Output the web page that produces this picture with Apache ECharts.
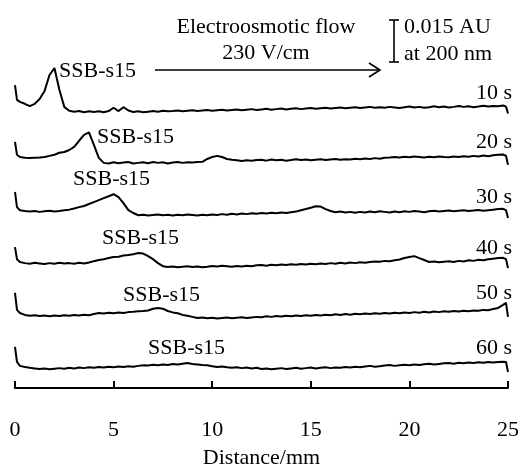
<!DOCTYPE html>
<html>
<head>
<meta charset="utf-8">
<script src="https://cdn.jsdelivr.net/npm/echarts@6/dist/echarts.min.js"></script>
<style>
  html, body { margin: 0; padding: 0; background: #fff; }
  #main { width: 524px; height: 466px; }
</style>
</head>
<body>
<div id="main"></div>
<script>
// distance along the channel (mm)
var distance = [0, 0.1, 0.25, 0.5, 0.75, 1, 1.25, 1.5, 1.75, 2,
  2.25, 2.5, 2.75, 3, 3.25, 3.5, 3.75, 4, 4.25, 4.5,
  4.75, 5, 5.25, 5.5, 5.75, 6, 6.25, 6.5, 6.75, 7,
  7.25, 7.5, 7.75, 8, 8.25, 8.5, 8.75, 9, 9.25, 9.5,
  9.75, 10, 10.25, 10.5, 10.75, 11, 11.25, 11.5, 11.75, 12,
  12.25, 12.5, 12.75, 13, 13.25, 13.5, 13.75, 14, 14.25, 14.5,
  14.75, 15, 15.25, 15.5, 15.75, 16, 16.25, 16.5, 16.75, 17,
  17.25, 17.5, 17.75, 18, 18.25, 18.5, 18.75, 19, 19.25, 19.5,
  19.75, 20, 20.25, 20.5, 20.75, 21, 21.25, 21.5, 21.75, 22,
  22.25, 22.5, 22.75, 23, 23.25, 23.5, 23.75, 24, 24.25, 24.5,
  24.75, 24.9, 25];

// absorbance above each trace's own baseline (mAU)
var trace10s = [9.6, 4.3, 3.6, 2.9, 2.1, 2.9, 4.6, 7.5, 13.2, 15.7,
  7.9, 1.8, 0.4, 0.1, 0.3, -0.1, 0.2, 0.0, 0.2, -0.1,
  0.3, 1.5, 0.3, 1.7, 0.5, 0.0, 0.2, -0.1, 0.1, 0.3,
  0.1, 0.4, 0.2, 0.3, 0.5, 0.2, 0.4, 0.6, 0.3, 0.5,
  0.7, 0.4, 0.6, 0.8, 0.5, 0.7, 0.9, 0.6, 0.8, 1.0,
  0.7, 0.9, 1.1, 0.8, 1.0, 1.2, 0.9, 1.1, 1.3, 1.0,
  1.2, 1.4, 1.1, 1.3, 1.5, 1.2, 1.4, 1.6, 1.3, 1.5,
  1.7, 1.4, 1.6, 1.8, 1.5, 1.7, 1.5, 1.8, 1.6, 1.4,
  1.7, 1.9, 1.6, 1.8, 1.5, 1.7, 2.0, 1.7, 1.9, 1.6,
  1.8, 2.1, 1.8, 2.0, 1.7, 1.9, 2.2, 1.9, 2.1, 2.0,
  2.3, 1.9, -0.6];
var trace20s = [7.5, 2.9, 2.1, 1.8, 1.7, 1.8, 1.9, 2.1, 2.5, 2.9,
  3.6, 3.9, 4.6, 5.7, 7.9, 10.0, 10.9, 6.4, 1.8, 0.0,
  -0.2, 0.2, -0.1, 0.1, 0.3, -0.2, 0.0, 0.2, -0.1, 0.3,
  0.0, 0.2, -0.2, 0.1, 0.3, 0.0, 0.2, 0.1, 0.3, 0.4,
  1.4, 2.1, 2.5, 2.1, 1.4, 1.1, 0.9, 0.7, 0.9, 0.8,
  1.0, 1.1, 0.8, 1.2, 0.9, 1.1, 0.8, 1.0, 1.3, 1.0,
  1.2, 0.9, 1.1, 1.3, 1.0, 1.2, 1.4, 1.1, 1.3, 1.2,
  1.5, 1.3, 1.6, 1.4, 1.7, 1.5, 1.8, 1.9, 2.1, 1.9,
  2.2, 2.0, 2.3, 2.1, 1.9, 2.2, 2.0, 2.3, 2.1, 2.0,
  2.3, 2.1, 2.4, 2.2, 2.5, 2.3, 2.6, 2.4, 2.7, 2.9,
  3.0, 2.5, -0.7];
var trace30s = [7.9, 2.5, 1.4, 1.1, 0.9, 1.1, 0.8, 1.0, 1.2, 0.9,
  1.1, 1.4, 1.6, 2.0, 2.5, 2.9, 3.6, 4.3, 5.0, 5.7,
  6.4, 7.1, 6.1, 3.9, 1.4, 0.4, -0.4, -0.2, -0.5, -0.3,
  -0.1, -0.4, -0.2, -0.5, -0.2, -0.4, -0.1, -0.3, -0.5, -0.2,
  -0.4, -0.1, -0.3, 0.0, -0.2, 0.1, -0.1, 0.2, 0.0, 0.3,
  0.1, 0.4, 0.2, 0.5, 0.3, 0.6, 0.4, 0.7, 0.9, 1.4,
  1.8, 2.3, 2.8, 2.7, 1.8, 1.1, 0.7, 0.9, 0.6, 0.8,
  0.5, 0.8, 0.6, 0.9, 0.7, 1.0, 0.8, 0.6, 0.9, 0.7,
  1.0, 0.8, 1.1, 0.9, 0.7, 1.0, 1.2, 0.9, 1.1, 1.3,
  1.0, 1.2, 1.4, 1.1, 1.3, 1.5, 1.2, 1.4, 1.6, 1.8,
  1.9, 1.4, -1.4];
var trace40s = [6.4, 2.1, 1.1, 0.7, 0.5, 0.8, 0.6, 0.4, 0.7, 0.5,
  0.8, 0.6, 0.7, 0.5, 0.8, 0.6, 0.9, 1.4, 1.8, 2.1,
  2.5, 2.9, 3.0, 3.4, 3.6, 3.9, 4.3, 4.1, 3.2, 2.1,
  0.7, -0.4, -0.7, -0.5, -0.8, -0.6, -0.4, -0.7, -0.5, -0.8,
  -0.6, -0.3, -0.5, -0.2, -0.4, -0.6, -0.3, -0.5, -0.2, -0.4,
  -0.1, 0.0, -0.2, 0.1, -0.1, 0.2, 0.0, 0.3, 0.1, 0.4,
  0.2, 0.5, 0.3, 0.6, 0.4, 0.7, 0.5, 0.8, 0.6, 0.9,
  0.7, 1.0, 0.8, 1.1, 1.3, 1.2, 1.5, 1.4, 1.7, 2.0,
  2.5, 2.9, 3.2, 2.5, 1.8, 1.1, 1.3, 1.0, 1.2, 1.4,
  1.1, 1.5, 1.3, 1.7, 1.5, 1.9, 1.7, 2.1, 2.3, 2.5,
  2.6, 2.1, -1.1];
var trace50s = [8.6, 2.5, 1.4, 0.7, 0.4, 0.6, 0.3, 0.5, 0.2, 0.5,
  0.3, 0.6, 0.4, 0.7, 0.5, 0.8, 0.6, 1.0, 1.4, 1.2,
  1.5, 1.3, 1.6, 1.4, 1.7, 1.8, 2.0, 2.1, 2.3, 2.9,
  3.2, 2.9, 2.1, 1.6, 1.3, 0.7, 0.4, 0.0, -0.4, -0.2,
  -0.5, -0.3, -0.6, -0.4, -0.2, -0.5, -0.3, -0.1, -0.4, -0.2,
  0.0, -0.1, 0.2, 0.0, 0.3, 0.1, 0.4, 0.2, 0.5, 0.3,
  0.6, 0.4, 0.7, 0.5, 0.8, 0.6, 0.9, 0.7, 1.0, 0.8,
  1.1, 0.9, 1.2, 1.0, 1.3, 1.1, 1.4, 1.2, 1.5, 1.3,
  1.6, 1.4, 1.7, 1.5, 1.8, 1.6, 1.9, 1.7, 2.0, 1.8,
  2.1, 1.9, 2.2, 2.0, 2.3, 2.2, 2.5, 2.4, 2.8, 3.2,
  4.3, 5.0, 0.0];
var trace60s = [7.9, 2.5, 1.1, 0.7, 0.4, 0.2, 0.0, 0.2, -0.1, 0.1,
  0.3, 0.1, 0.4, 0.2, 0.5, 0.3, 0.6, 0.4, 0.7, 0.5,
  0.8, 0.6, 0.9, 0.7, 1.0, 0.8, 1.1, 1.3, 1.2, 1.5,
  1.3, 1.6, 1.4, 1.8, 1.6, 1.9, 2.1, 1.8, 1.6, 1.4,
  1.3, 1.0, 0.7, 0.9, 0.6, 0.4, 0.6, 0.3, 0.5, 0.2,
  0.4, 0.0, 0.2, -0.1, 0.1, 0.3, 0.0, 0.2, 0.4, 0.1,
  0.3, 0.5, 0.2, 0.4, 0.6, 0.3, 0.5, 0.4, 0.7, 0.5,
  0.8, 0.6, 0.9, 1.1, 0.8, 1.0, 1.2, 1.4, 1.1, 1.3,
  1.5, 1.3, 1.6, 1.4, 1.7, 1.9, 1.6, 1.8, 2.0, 2.1,
  1.9, 2.2, 2.0, 2.3, 2.1, 2.4, 2.2, 2.5, 2.3, 2.5,
  2.6, 2.5, -1.1];

var traces = [trace10s, trace20s, trace30s, trace40s, trace50s, trace60s];
var timeLabels = ["10 s", "20 s", "30 s", "40 s", "50 s", "60 s"];
// vertical stacking offset of each trace (mAU)
var offsets = [98.6, 80.4, 62.1, 43.9, 25.4, 6.8];
var xTicks = [0, 5, 10, 15, 20, 25];

var FONT = "Liberation Serif, Times New Roman, serif";
var chart = echarts.init(document.getElementById("main"), null, { renderer: "canvas" });

var series = traces.map(function (vals, k) {
  return {
    name: timeLabels[k],
    type: "line",
    symbol: "none",
    smooth: false,
    silent: true,
    lineStyle: { color: "#000", width: 2 },
    data: vals.map(function (v, i) { return [distance[i], offsets[k] + v]; })
  };
});

function txt(s, x, y, align) {
  return {
    type: "text", silent: true,
    style: { text: s, x: x, y: y, fill: "#000", font: "22px " + FONT,
             align: align || "left", verticalAlign: "middle" }
  };
}

// right-hand time labels and peak labels
var timeLabelY = [93, 142, 197, 248, 293, 348];
var peakLabelPos = [[59, 71], [97, 137], [73, 179], [102, 238], [123, 295], [148, 348]];
var graphics = [];
timeLabels.forEach(function (t, k) {
  graphics.push(txt(t, 512, timeLabelY[k], "right"));
  graphics.push(txt("SSB-s15", peakLabelPos[k][0], peakLabelPos[k][1], "left"));
});
graphics.push(txt("Electroosmotic flow", 266, 27, "center"));
graphics.push(txt("230 V/cm", 266, 53, "center"));
graphics.push(txt("0.015 AU", 404, 27, "left"));
graphics.push(txt("at 200 nm", 404, 54, "left"));
// flow arrow
graphics.push({ type: "line", silent: true, shape: { x1: 155, y1: 70, x2: 380, y2: 70 },
  style: { stroke: "#000", lineWidth: 1.6 } });
graphics.push({ type: "polyline", silent: true, shape: { points: [[369, 63], [380, 70], [369, 77]] },
  style: { stroke: "#000", lineWidth: 1.6, fill: null } });
// scale bar (0.015 AU)
graphics.push({ type: "line", silent: true, shape: { x1: 394, y1: 20, x2: 394, y2: 62 },
  style: { stroke: "#000", lineWidth: 1.6 } });
graphics.push({ type: "line", silent: true, shape: { x1: 389, y1: 20, x2: 399, y2: 20 },
  style: { stroke: "#000", lineWidth: 1.6 } });
graphics.push({ type: "line", silent: true, shape: { x1: 389, y1: 62, x2: 399, y2: 62 },
  style: { stroke: "#000", lineWidth: 1.6 } });

chart.setOption({
  animation: false,
  backgroundColor: "#fff",
  grid: { left: 15, right: 16, top: 10, bottom: 78, containLabel: false, outerBoundsMode: "none" },
  xAxis: {
    type: "value",
    min: xTicks[0],
    max: xTicks[xTicks.length - 1],
    interval: 5,
    name: "Distance/mm",
    nameLocation: "middle",
    nameGap: 59,
    nameTextStyle: { color: "#000", fontSize: 22, fontFamily: FONT },
    axisLine: { lineStyle: { color: "#000", width: 2 } },
    axisTick: { inside: true, length: 7, lineStyle: { color: "#000", width: 2 } },
    axisLabel: { color: "#000", fontSize: 22, fontFamily: FONT, margin: 31 },
    splitLine: { show: false }
  },
  yAxis: { type: "value", min: 0, max: 135, show: false },
  series: series,
  graphic: graphics
});
</script>
</body>
</html>
